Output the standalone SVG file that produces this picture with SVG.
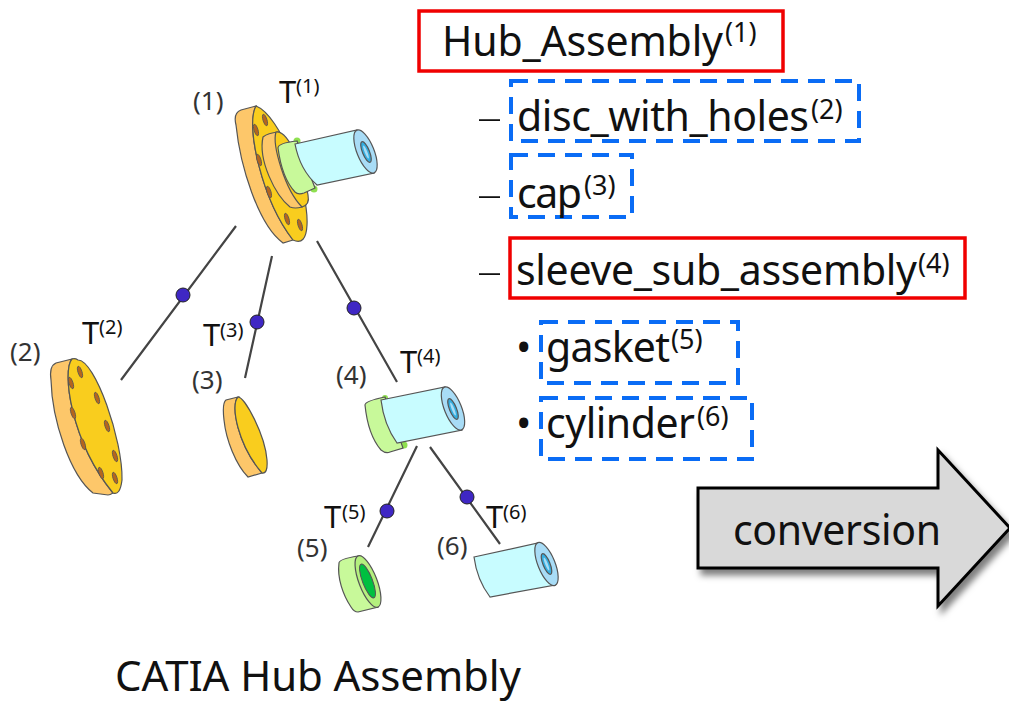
<svg xmlns="http://www.w3.org/2000/svg" width="1009" height="701" viewBox="0 0 1009 701">
<style>
text{font-family:"Noto Sans","Open Sans",sans-serif;fill:#111}
.t{font-size:41px}
.dash{font-size:50px;font-weight:200}
.s{font-size:27px}
.tt{font-size:31px}
.ts{font-size:20px}
.n{font-size:26px;fill:#333}
.red{fill:none;stroke:#f00000;stroke-width:3.5}
.blue{fill:none;stroke:#0a6cf5;stroke-width:4;stroke-dasharray:17 10}
.e{stroke:#555;stroke-width:1.2}
.o1{fill:#fdc76a}.o2{fill:#f9cd1e}
.g1{fill:#c8f99a}.g2{fill:#8fe050}.c1{fill:#c8fcff}.c2{fill:#a8dcf6}.c3{fill:#35aee0}
.h{fill:#b5651d;stroke:#555;stroke-width:.8}
.l{stroke:#444;stroke-width:2.2;fill:none}
.d{fill:#3f27c4;stroke:#222;stroke-width:1}
</style>
<defs><filter id="sh" x="-10%" y="-10%" width="125%" height="130%"><feDropShadow dx="4" dy="6" stdDeviation="3" flood-color="#000" flood-opacity=".5"/></filter>
<ellipse id="hole" class="h" rx="2" ry="6"/></defs>

<g id="connectors">
<path class="l" d="M236,226L121,380M272,256L245,378M317,241L397,382M417,446L368,547M430,447L500,544"/>
<circle class="d" cx="183" cy="295" r="7"/><circle class="d" cx="257" cy="322" r="7"/><circle class="d" cx="354" cy="308" r="7"/><circle class="d" cx="387" cy="511" r="7"/><circle class="d" cx="467" cy="497" r="7"/>
</g>

<g id="node1">
<path class="o1 e" d="M256,106L241,110Q233,113 236,125C240,165 258,225 283,243L293,240C262,200 245,125 256,106Z"/>
<path class="o2 e" d="M256,106C245,125 262,200 293,240Q306,246 307,225C309,190 280,115 256,106Z"/>
<use href="#hole" transform="translate(265 120) rotate(-17)"/><use href="#hole" transform="translate(256 130) rotate(-17)"/><use href="#hole" transform="translate(259 160) rotate(-17)"/><use href="#hole" transform="translate(269 192) rotate(-17)"/><use href="#hole" transform="translate(287 219) rotate(-17)"/><use href="#hole" transform="translate(300 225) rotate(-17)"/>
<path class="o1 e" d="M263,137Q268,133 278,132L302,207Q295,209 290,207C275,195 258,160 263,137Z"/>
<path class="o2 e" d="M276,132C272,145 285,190 302,207Q310,205 308,195C305,175 290,130 276,132Z"/>
<circle class="g2" cx="297" cy="141" r="3.5"/><circle class="g2" cx="314" cy="189" r="3.5"/>
<path class="g1 e" d="M278,148Q278,143 297,141L315,188L304,193Q298,195 295,192Q282,178 278,148Z"/>
<path class="c1 e" d="M295,144L357,130L374,173L317,185Q300,170 295,144Z"/>
<ellipse class="c2 e" cx="365.500" cy="151.500" rx="8.500" ry="23" transform="rotate(-22 365.500 151.500)"/>
<ellipse class="c3 e" cx="366" cy="152" rx="3.500" ry="11" transform="rotate(-22 366 152)"/>
<ellipse class="c2" cx="366" cy="152" rx="1.300" ry="7" transform="rotate(-22 366 152)"/>
<text class="n" x="193" y="110">(1)</text>
<text class="tt" x="279" y="103">T</text><text class="ts" x="296" y="93">(1)</text>
</g>

<g id="node2">
<path class="o1 e" d="M72,359L56,363Q49,366 51,380C52,420 70,475 93,493L108,495Q110,495 113,493C70,440 62,370 72,359Z"/>
<path class="o2 e" d="M72,359C62,370 70,440 113,493Q120,496 122,480C123,440 95,360 78,360Q75,358 72,359Z"/>
<use href="#hole" transform="translate(80 372) rotate(-18)"/><use href="#hole" transform="translate(71 383) rotate(-18)"/><use href="#hole" transform="translate(97 398) rotate(-18)"/><use href="#hole" transform="translate(73 413) rotate(-18)"/><use href="#hole" transform="translate(107 426) rotate(-18)"/><use href="#hole" transform="translate(83 444) rotate(-18)"/><use href="#hole" transform="translate(115 456) rotate(-18)"/><use href="#hole" transform="translate(101 473) rotate(-18)"/><use href="#hole" transform="translate(115 478) rotate(-18)"/>
<text class="n" x="10" y="361">(2)</text>
<text class="tt" x="82" y="344">T</text><text class="ts" x="99" y="334">(2)</text>
</g>

<g id="node3">
<path class="o1 e" d="M238,397L226,400Q222,403 224,420C226,440 236,465 248,477L262,473C238,445 230,405 238,397Z"/>
<path class="o2 e" d="M238,397C230,405 238,445 262,473Q268,474 267,460C265,435 245,397 238,397Z"/>
<text class="n" x="192" y="389">(3)</text>
<text class="tt" x="203" y="346">T</text><text class="ts" x="220" y="337">(3)</text>
</g>

<g id="node4">
<circle class="g2" cx="385" cy="398" r="3"/><circle class="g2" cx="404" cy="445" r="3.500"/>
<path class="g1 e" d="M365,405Q365,401 385,397L403,448L390,452Q386,454 381,450Q368,435 365,405Z"/>
<path class="c1 e" d="M381,400L445,387L462,430L397,443Q384,425 381,400Z"/>
<ellipse class="c2 e" cx="453" cy="408.500" rx="8.500" ry="23" transform="rotate(-22 453 408.500)"/>
<ellipse class="c3 e" cx="453" cy="409" rx="3.500" ry="11" transform="rotate(-22 453 409)"/>
<ellipse class="c2" cx="453" cy="409" rx="1.300" ry="7" transform="rotate(-22 453 409)"/>
<text class="n" x="336" y="384">(4)</text>
<text class="tt" x="400" y="373">T</text><text class="ts" x="417" y="363">(4)</text>
</g>

<g id="node5">
<path class="g1 e" d="M339,563Q339,559 358,556L378,607L358,612Q354,612 351,607C343,595 337,578 339,563Z"/>
<ellipse fill="#b4f07e" stroke="#555" stroke-width="1.200" cx="368" cy="581.500" rx="9" ry="27.500" transform="rotate(-21 368 581.500)"/>
<ellipse fill="#00c040" stroke="#555" cx="367.500" cy="581" rx="5" ry="18" transform="rotate(-21 367.500 581)"/>
<text class="n" x="297" y="557">(5)</text>
<text class="tt" x="324" y="528">T</text><text class="ts" x="342" y="519">(5)</text>
</g>

<g id="node6">
<path class="c1 e" d="M474,557L538,543L555,585L490,597Q477,580 474,557Z"/>
<ellipse class="c2 e" cx="546.500" cy="564" rx="8.500" ry="23" transform="rotate(-22 546.500 564)"/>
<ellipse class="c3 e" cx="546.500" cy="564" rx="3.500" ry="11" transform="rotate(-22 546.500 564)"/>
<ellipse class="c2" cx="546.500" cy="564" rx="1.300" ry="7" transform="rotate(-22 546.500 564)"/>
<text class="n" x="437" y="555">(6)</text>
<text class="tt" x="486" y="528">T</text><text class="ts" x="503" y="519">(6)</text>
</g>

<g id="tree">
<g id="hub"><rect class="red" x="419" y="11" width="364" height="60"/><text class="t" x="442" y="56" textLength="281">Hub_Assembly</text><text class="s" x="725" y="42">(1)</text></g>
<g id="disc"><text class="dash" x="477" y="134">–</text><rect class="blue" x="511" y="81" width="348" height="60"/><text class="t" x="517" y="131" textLength="292">disc_with_holes</text><text class="s" x="811" y="119">(2)</text></g>
<g id="cap"><text class="dash" x="477" y="211">–</text><rect class="blue" x="511" y="155" width="121" height="62"/><text class="t" x="517" y="208" textLength="65">cap</text><text class="s" x="584" y="195">(3)</text></g>
<g id="sleeve"><text class="dash" x="477" y="288">–</text><rect class="red" x="510" y="238" width="455" height="60"/><text class="t" x="516" y="285" textLength="401">sleeve_sub_assembly</text><text class="s" x="918" y="273">(4)</text></g>
<g id="gasket"><text class="t" x="516" y="362">•</text><rect class="blue" x="541" y="322" width="197" height="61"/><text class="t" x="546" y="362" textLength="124">gasket</text><text class="s" x="671" y="349">(5)</text></g>
<g id="cylinder"><text class="t" x="516" y="438">•</text><rect class="blue" x="541" y="398" width="211" height="61"/><text class="t" x="546" y="438" textLength="149">cylinder</text><text class="s" x="697" y="426">(6)</text></g>
</g>

<g id="conversion">
<path d="M698,488H938V450L1010,528L938,606V568H698Z" fill="#d9d9d9" stroke="#000" stroke-width="3" filter="url(#sh)"/>
<text class="t" x="733" y="545" textLength="208">conversion</text>
</g>
<text id="caption" x="115" y="691" font-size="42" textLength="406">CATIA Hub Assembly</text>
</svg>
